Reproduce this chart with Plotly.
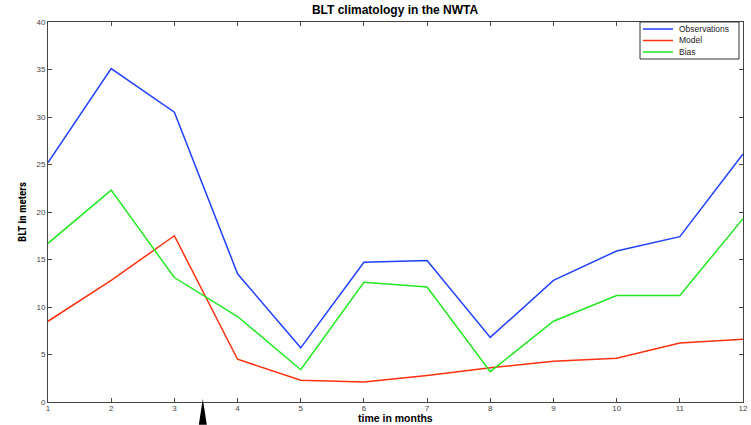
import plotly.graph_objects as go

months = [1, 2, 3, 4, 5, 6, 7, 8, 9, 10, 11, 12]
observations = [25.2, 35.1, 30.5, 13.5, 5.7, 14.7, 14.9, 6.8, 12.8, 15.9, 17.4, 26.1]
model = [8.5, 12.8, 17.5, 4.5, 2.3, 2.1, 2.8, 3.6, 4.3, 4.6, 6.2, 6.6]
bias = [16.7, 22.3, 13.1, 9.0, 3.4, 12.6, 12.1, 3.2, 8.5, 11.2, 11.2, 19.3]
y_ticks = [0, 5, 10, 15, 20, 25, 30, 35, 40]
series_names = ["Observations", "Model", "Bias"]
series_colors = ["#2040ff", "#ff3010", "#22e822"]
arrow_x = 3.45

W, H = 751, 425
L, R, T, B = 48, 8, 22, 23
PW, PH = W - L - R, H - T - B


def px(x):
    return (x - L) / PW


def py(y):
    return (H - B - y) / PH


fig = go.Figure()
for name, vals, col in zip(series_names, [observations, model, bias], series_colors):
    fig.add_trace(go.Scatter(x=months, y=vals, mode="lines", name=name,
                             line=dict(color=col, width=1.5), showlegend=False))

# custom legend box
fig.add_shape(type="rect", xref="paper", yref="paper",
              x0=px(640), x1=px(739), y0=py(59), y1=py(22),
              fillcolor="white", line=dict(color="#333", width=1), layer="above")
row_y = [29, 40.5, 52]
for name, col, ry in zip(series_names, series_colors, row_y):
    fig.add_shape(type="line", xref="paper", yref="paper",
                  x0=px(643), x1=px(673), y0=py(ry), y1=py(ry),
                  line=dict(color=col, width=1.5), layer="above")
    fig.add_annotation(xref="paper", yref="paper", x=px(677), y=py(ry),
                       xanchor="left", yanchor="middle", showarrow=False,
                       text=name, font=dict(size=8.5, color="#222"))

# black upward arrow marker below the axis
fig.add_shape(type="path", xref="x", yref="paper", xsizemode="pixel", xanchor=arrow_x,
              path="M -4,-0.06 L 0,0.008 L 4,-0.06 Z",
              fillcolor="black", line=dict(color="black", width=0), layer="above")

fig.add_annotation(xref="paper", yref="paper", x=px(395), y=py(425),
                   xanchor="center", yanchor="bottom", showarrow=False, borderpad=0,
                   text="<b>time in months</b>", font=dict(size=10.5, color="black"))
fig.add_annotation(xref="paper", yref="paper", x=px(22), y=py(212),
                   xanchor="center", yanchor="middle", showarrow=False, textangle=-90,
                   text="<b>BLT in meters</b>",
                   font=dict(family="Roboto Condensed, Liberation Sans Narrow, Roboto",
                             size=11, color="black"))

fig.update_layout(
    width=W, height=H,
    margin=dict(l=L, r=R, t=T, b=B),
    paper_bgcolor="white", plot_bgcolor="white",
    title=dict(text="<b>BLT climatology in the NWTA</b>", x=395 / W, xanchor="center",
               y=1 - 10 / H, yanchor="middle",
               font=dict(family="Liberation Sans, Arial", size=12, color="black")),
    font=dict(family="Liberation Sans, Arial", size=8, color="#444"),
    showlegend=False,
    xaxis=dict(range=[1, 12], tickvals=months, ticks="inside", ticklen=4,
               tickcolor="#444", showline=True, linecolor="#444", linewidth=1,
               mirror="ticks", showgrid=False, zeroline=False, automargin=False,
               ticklabelstandoff=-2),
    yaxis=dict(range=[0, 40], tickvals=y_ticks, ticks="inside", ticklen=4,
               tickcolor="#444", showline=True, linecolor="#444", linewidth=1,
               mirror="ticks", showgrid=False, zeroline=False, automargin=False),
)

fig.write_html("out.html")
